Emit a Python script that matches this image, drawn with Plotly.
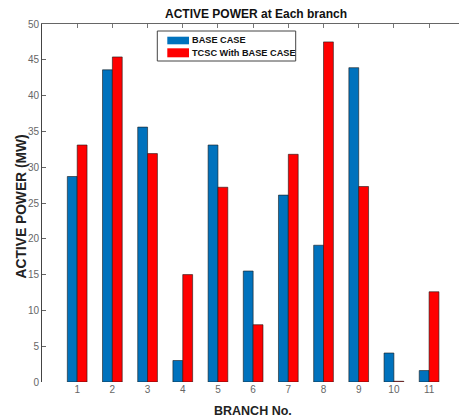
import plotly.graph_objects as go

branches = [1, 2, 3, 4, 5, 6, 7, 8, 9, 10, 11]
base_case = [28.7, 43.6, 35.6, 3.0, 33.1, 15.5, 26.1, 19.1, 43.9, 4.05, 1.6]
tcsc_case = [33.1, 45.4, 31.9, 15.0, 27.2, 8.0, 31.8, 47.5, 27.3, 0.1, 12.6]
y_ticks = [0, 5, 10, 15, 20, 25, 30, 35, 40, 45, 50]
series_names = ["BASE CASE", "TCSC With BASE CASE"]
series_colors = ["#0072BD", "#FF0000"]

SANS = "Liberation Sans, Arial, sans-serif"

W, H = 459, 419
L, R, T, B = 42, 0, 24, 37


def px(xp):
    return (xp - L) / (W - L - R)


def py(yp):
    return (H - B - yp) / (H - B - T)


fig = go.Figure()
for name, vals, col in zip(series_names, [base_case, tcsc_case], series_colors):
    fig.add_trace(go.Bar(x=branches, y=vals, name=name, showlegend=False,
                         marker=dict(color=col, line=dict(color="#1a1a1a", width=0.6))))
fig.add_trace(go.Scatter(x=[None], y=[None], xaxis="x2", showlegend=False, hoverinfo="skip"))

shapes = []
annotations = []
# legend box
shapes.append(dict(type="rect", xref="paper", yref="paper",
                   x0=px(157.3), x1=px(295.7), y0=py(61), y1=py(31),
                   line=dict(color="#444444", width=1), fillcolor="white", layer="above"))
rows_y = [(36.7, 44.3), (48.3, 57.3)]
for (y0, y1), name, col in zip(rows_y, series_names, series_colors):
    shapes.append(dict(type="rect", xref="paper", yref="paper",
                       x0=px(167.3), x1=px(189), y0=py(y1), y1=py(y0),
                       line=dict(width=0), fillcolor=col, layer="above"))
    annotations.append(dict(text="<b>%s</b>" % name, xref="paper", yref="paper",
                            x=px(189.5), y=py((y0 + y1) / 2), xanchor="left", yanchor="middle",
                            showarrow=False,
                            font=dict(family=SANS, size=9.2, color="#111111")))
# title and axis titles
annotations.append(dict(text="<b>ACTIVE POWER at Each branch</b>", xref="paper", yref="paper",
                        x=px(255.5), y=py(14), xanchor="center", yanchor="middle",
                        showarrow=False, font=dict(family=SANS, size=12, color="#111111")))
annotations.append(dict(text="<b>BRANCH No.</b>", xref="paper", yref="paper",
                        x=px(253), y=py(410.5), xanchor="center", yanchor="middle",
                        showarrow=False, font=dict(family=SANS, size=12.5, color="#222222")))
annotations.append(dict(text="<b>ACTIVE POWER (MW)</b>", xref="paper", yref="paper",
                        x=px(20.5), y=py(207), xanchor="center", yanchor="middle",
                        textangle=-90, showarrow=False,
                        font=dict(family=SANS, size=13.8, color="#222222")))

fig.update_layout(
    width=W, height=H,
    margin=dict(l=L, r=R, t=T, b=B),
    paper_bgcolor="white", plot_bgcolor="white",
    barmode="group", bargap=0.44, bargroupgap=0,
    showlegend=False,
    font=dict(family=SANS, color="#666666", size=10),
    shapes=shapes, annotations=annotations,
    xaxis=dict(range=[0, 11.85], tickvals=branches, ticktext=[str(b) for b in branches],
               showline=False, ticks="", showgrid=False, zeroline=False, automargin=False,
               tickfont=dict(family=SANS, size=10, color="#666666")),
    xaxis2=dict(overlaying="x", side="top", matches="x", range=[0, 11.85],
                tickvals=branches, showticklabels=False, ticks="inside", ticklen=4,
                tickcolor="#777777", showline=True, linecolor="#666666", linewidth=1,
                showgrid=False, zeroline=False, automargin=False),
    yaxis=dict(range=[0, 50], tickvals=y_ticks, showline=True, linecolor="#444444",
               linewidth=1, ticks="inside", ticklen=4, tickcolor="#666666",
               showgrid=False, zeroline=False, automargin=False,
               tickfont=dict(family=SANS, size=10, color="#666666")),
)
fig.write_html("out.html", config={"displayModeBar": False},
               post_script="document.body.style.margin='0';document.body.style.overflow='hidden';")
